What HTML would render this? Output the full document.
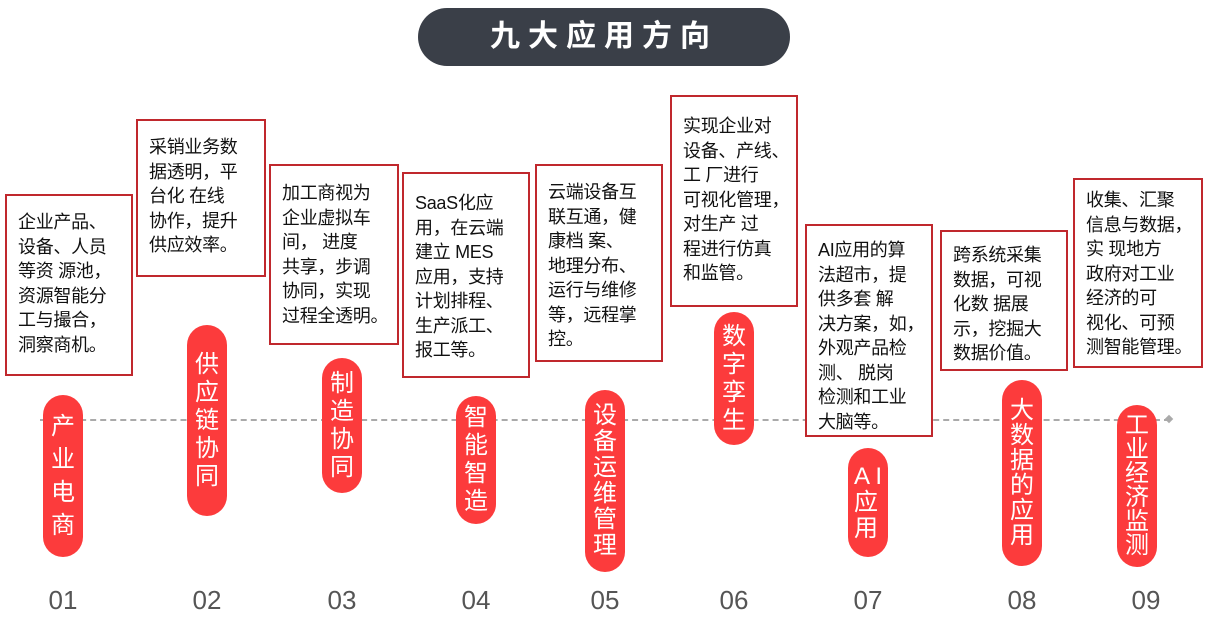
<!DOCTYPE html>
<html><head><meta charset="utf-8"><style>
body{margin:0;width:1208px;height:641px;background:#fff;position:relative;overflow:hidden;font-family:"Liberation Sans","Noto Sans CJK SC",sans-serif;}
.t{position:absolute;left:418px;top:8px;width:372px;height:58px;border-radius:29px;background:#3a3f48;color:#fff;font-weight:bold;font-size:30px;letter-spacing:8px;text-align:center;line-height:58px;}
.b{position:absolute;border:2px solid #c0282d;box-sizing:border-box;background:#fff;font-size:18px;line-height:24.5px;color:#111;padding:0 0 0 11px;white-space:nowrap;letter-spacing:-0.3px;}
.p{position:absolute;width:40px;border-radius:20px;background:#fc3b3c;color:#fff;font-size:24px;display:flex;flex-direction:column;align-items:center;justify-content:center;}
.n{position:absolute;top:585px;width:60px;text-align:center;font-size:26px;color:#555;}
.line{position:absolute;left:40px;top:419px;width:1130px;border-top:2px dashed #aaa;}
.dot{position:absolute;left:1166px;top:416px;width:6px;height:6px;background:#aaa;transform:rotate(45deg);}
</style></head><body>
<div class="t">九大应用方向</div>
<div class="line"></div><div class="dot"></div>

<div class="b" style="left:5px;top:194px;width:128px;height:182px;padding-top:14px">企业产品、<br>设备、人员<br>等资 源池，<br>资源智能分<br>工与撮合，<br>洞察商机。</div>
<div class="b" style="left:136px;top:119px;width:130px;height:158px;padding-top:14px">采销业务数<br>据透明，平<br>台化 在线<br>协作，提升<br>供应效率。</div>
<div class="b" style="left:269px;top:164px;width:130px;height:181px;padding-top:15px">加工商视为<br>企业虚拟车<br>间， 进度<br>共享，步调<br>协同，实现<br>过程全透明。</div>
<div class="b" style="left:402px;top:172px;width:128px;height:206px;padding-top:17px">SaaS化应<br>用，在云端<br>建立 MES<br>应用，支持<br>计划排程、<br>生产派工、<br>报工等。</div>
<div class="b" style="left:535px;top:164px;width:128px;height:198px;padding-top:14px">云端设备互<br>联互通，健<br>康档 案、<br>地理分布、<br>运行与维修<br>等，远程掌<br>控。</div>
<div class="b" style="left:670px;top:95px;width:128px;height:212px;padding-top:17px">实现企业对<br>设备、产线、<br>工 厂进行<br>可视化管理，<br>对生产 过<br>程进行仿真<br>和监管。</div>
<div class="b" style="left:805px;top:224px;width:128px;height:213px;padding-top:12px">AI应用的算<br>法超市，提<br>供多套 解<br>决方案，如，<br>外观产品检<br>测、 脱岗<br>检测和工业<br>大脑等。</div>
<div class="b" style="left:940px;top:230px;width:128px;height:141px;padding-top:11px">跨系统采集<br>数据，可视<br>化数 据展<br>示，挖掘大<br>数据价值。</div>
<div class="b" style="left:1073px;top:178px;width:130px;height:190px;padding-top:8px">收集、汇聚<br>信息与数据，<br>实 现地方<br>政府对工业<br>经济的可<br>视化、可预<br>测智能管理。</div>

<div class="p" style="left:43px;top:395px;height:162px;line-height:33px">产<br>业<br>电<br>商</div>
<div class="p" style="left:187px;top:325px;height:191px;line-height:28px">供<br>应<br>链<br>协<br>同</div>
<div class="p" style="left:322px;top:358px;height:135px;line-height:28px">制<br>造<br>协<br>同</div>
<div class="p" style="left:456px;top:396px;height:128px;line-height:28px">智<br>能<br>智<br>造</div>
<div class="p" style="left:585px;top:390px;height:182px;line-height:26px">设<br>备<br>运<br>维<br>管<br>理</div>
<div class="p" style="left:714px;top:312px;height:133px;line-height:28px">数<br>字<br>孪<br>生</div>
<div class="p" style="left:848px;top:448px;height:109px;line-height:26px">A I<br>应<br>用</div>
<div class="p" style="left:1002px;top:380px;height:186px;line-height:25px">大<br>数<br>据<br>的<br>应<br>用</div>
<div class="p" style="left:1117px;top:405px;height:162px;line-height:24px">工<br>业<br>经<br>济<br>监<br>测</div>

<div class="n" style="left:33px">01</div>
<div class="n" style="left:177px">02</div>
<div class="n" style="left:312px">03</div>
<div class="n" style="left:446px">04</div>
<div class="n" style="left:575px">05</div>
<div class="n" style="left:704px">06</div>
<div class="n" style="left:838px">07</div>
<div class="n" style="left:992px">08</div>
<div class="n" style="left:1116px">09</div>
</body></html>
